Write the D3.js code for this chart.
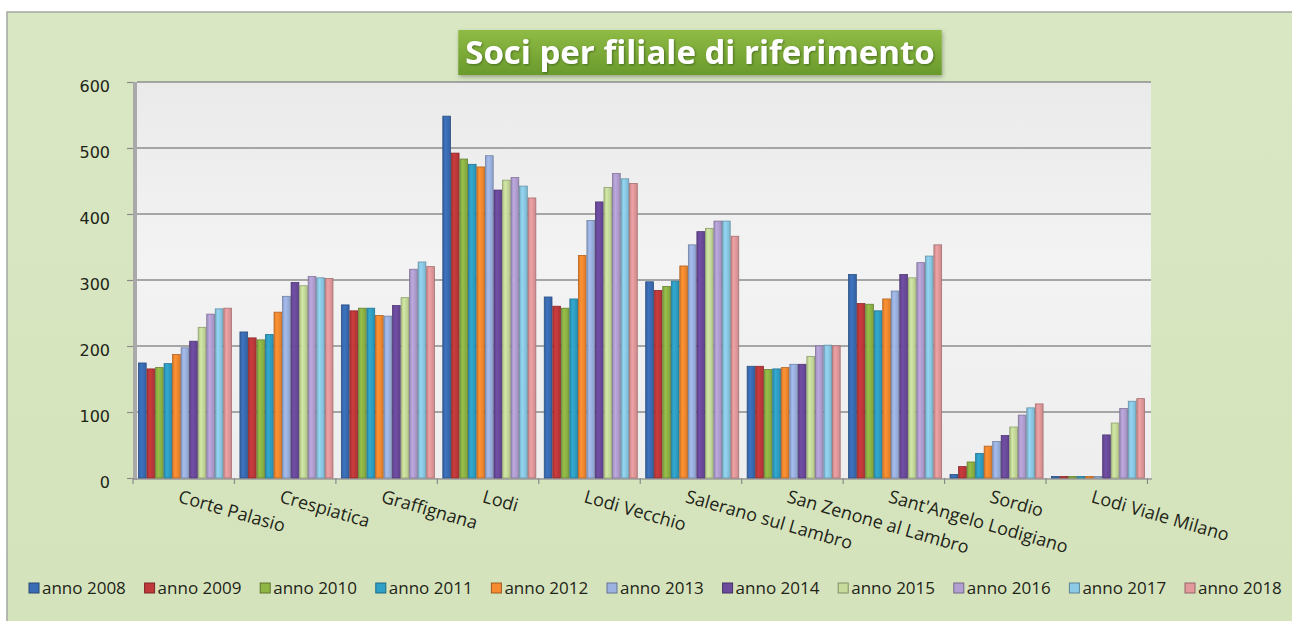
<!DOCTYPE html>
<html>
<head>
<meta charset="utf-8">
<script src="https://cdn.jsdelivr.net/npm/d3@7"></script>
<style>
  html, body { margin: 0; padding: 0; background: #ffffff; }
  svg { display: block; }
</style>
</head>
<body>
<svg id="chart" width="1292" height="621"></svg>
<script>
// Branches (filiali)
const categories = [
  "Corte Palasio", "Crespiatica", "Graffignana", "Lodi", "Lodi Vecchio",
  "Salerano sul Lambro", "San Zenone al Lambro", "Sant'Angelo Lodigiano",
  "Sordio", "Lodi Viale Milano"
];

// Years shown in the legend
const years = ["anno 2008", "anno 2009", "anno 2010", "anno 2011", "anno 2012",
  "anno 2013", "anno 2014", "anno 2015", "anno 2016", "anno 2017", "anno 2018"];

// Members per branch, one array per year (same order as categories)
const anno2008 = [172, 219, 260, 546, 272, 295, 167, 306, 3, 0];
const anno2009 = [163, 210, 251, 490, 258, 282, 167, 262, 15, 0];
const anno2010 = [165, 207, 255, 481, 255, 288, 162, 261, 22, 0];
const anno2011 = [171, 215, 255, 473, 269, 296, 163, 251, 35, 0];
const anno2012 = [185, 249, 244, 469, 335, 319, 165, 269, 46, 0];
const anno2013 = [195, 273, 243, 486, 388, 351, 170, 281, 53, 0];
const anno2014 = [205, 294, 259, 434, 416, 371, 170, 306, 62, 63];
const anno2015 = [226, 289, 271, 449, 438, 376, 182, 301, 75, 81];
const anno2016 = [246, 303, 314, 453, 459, 387, 198, 324, 93, 103];
const anno2017 = [254, 301, 325, 440, 451, 387, 199, 334, 104, 114];
const anno2018 = [255, 300, 318, 422, 444, 364, 198, 351, 110, 118];

const yTicks = [0, 100, 200, 300, 400, 500, 600];

const seriesValues = [anno2008, anno2009, anno2010, anno2011, anno2012, anno2013,
  anno2014, anno2015, anno2016, anno2017, anno2018];

const colors = ["#3a6db5", "#c0393b", "#8fb545", "#2fa0c6", "#f58a30",
  "#9cb3e2", "#6c4b9d", "#c7dc9c", "#b3a0d3", "#8ccbe6", "#e39a9c"];

const titleText = "Soci per filiale di riferimento";

const svg = d3.select("#chart");
const W = 1292, H = 621;

const defs = svg.append("defs");

// Chart area background (soft green)
const bg = defs.append("linearGradient").attr("id", "bgGrad")
  .attr("x1", 0).attr("y1", 0).attr("x2", 0).attr("y2", 1);
bg.append("stop").attr("offset", "0%").attr("stop-color", "#d9e7c3");
bg.append("stop").attr("offset", "100%").attr("stop-color", "#d5e3bc");

// Plot back wall
const wall = defs.append("linearGradient").attr("id", "wallGrad")
  .attr("x1", 0).attr("y1", 0).attr("x2", 0).attr("y2", 1);
wall.append("stop").attr("offset", "0%").attr("stop-color", "#eaeaea");
wall.append("stop").attr("offset", "45%").attr("stop-color", "#f3f3f3");
wall.append("stop").attr("offset", "100%").attr("stop-color", "#eeeeee");

// Title box
const tg = defs.append("linearGradient").attr("id", "titleGrad")
  .attr("x1", 0).attr("y1", 0).attr("x2", 0).attr("y2", 1);
tg.append("stop").attr("offset", "0%").attr("stop-color", "#8fbb45");
tg.append("stop").attr("offset", "100%").attr("stop-color", "#6a9a2c");

const shadow = defs.append("filter").attr("id", "shadow")
  .attr("x", "-10%").attr("y", "-30%").attr("width", "120%").attr("height", "170%");
shadow.append("feDropShadow").attr("dx", 1).attr("dy", 2).attr("stdDeviation", 2)
  .attr("flood-color", "#000").attr("flood-opacity", 0.3);

const txtShadow = defs.append("filter").attr("id", "txtShadow")
  .attr("x", "-5%").attr("y", "-20%").attr("width", "110%").attr("height", "150%");
txtShadow.append("feDropShadow").attr("dx", 1).attr("dy", 1).attr("stdDeviation", 0.8)
  .attr("flood-color", "#2a4a10").attr("flood-opacity", 0.6);

// Per-series bar shading (rounded bevel look)
colors.forEach((c, i) => {
  const g = defs.append("linearGradient").attr("id", "bar" + i)
    .attr("x1", 0).attr("y1", 0).attr("x2", 1).attr("y2", 0);
  g.append("stop").attr("offset", "0%").attr("stop-color", d3.color(c).darker(0.35));
  g.append("stop").attr("offset", "35%").attr("stop-color", d3.color(c).brighter(0.15));
  g.append("stop").attr("offset", "100%").attr("stop-color", d3.color(c).darker(0.3));
});

// Outer frame
svg.append("rect").attr("x", 7).attr("y", 12).attr("width", W).attr("height", H)
  .attr("fill", "url(#bgGrad)").attr("stroke", "#a3a8a0").attr("stroke-width", 1.5);

// Scales
const plotLeft = 133, plotRight = 1150, plotTop = 82, plotBottom = 478;
const y = d3.scaleLinear().domain([0, 600]).range([plotBottom, plotTop]);
const x0 = d3.scaleBand().domain(categories).range([plotLeft, plotRight])
  .paddingInner(0.075).paddingOuter(0.05);
const x1 = d3.scaleBand().domain(d3.range(years.length)).range([0, x0.bandwidth()]);

// Back wall
svg.append("rect").attr("x", plotLeft + 4).attr("y", plotTop)
  .attr("width", plotRight - plotLeft - 3).attr("height", plotBottom - plotTop)
  .attr("fill", "url(#wallGrad)");
// Left side wall strip
svg.append("rect").attr("x", plotLeft).attr("y", plotTop)
  .attr("width", 4).attr("height", plotBottom - plotTop + 2)
  .attr("fill", "#a9a9a9");

// Gridlines
svg.append("g").selectAll("line").data(yTicks.filter(d => d > 0)).join("line")
  .attr("x1", plotLeft + 4).attr("x2", plotRight + 1)
  .attr("y1", d => y(d)).attr("y2", d => y(d))
  .attr("stroke", "#8d8d8d").attr("stroke-width", 1.6);

// Y axis ticks and labels
const yAxis = d3.axisLeft(y).tickValues(yTicks).tickSize(6).tickPadding(17);
const yg = svg.append("g").attr("transform", `translate(${plotLeft},0)`).call(yAxis);
yg.select(".domain").remove();
yg.selectAll(".tick line").attr("stroke", "#8a8a8a").attr("stroke-width", 1.2);
yg.selectAll(".tick text")
  .attr("font-family", "DejaVu Sans, sans-serif").attr("font-size", 16)
  .attr("fill", "#1e2418").attr("dy", "0.65em")
  .attr("transform", "translate(0,-1)");

// Floor line and category ticks
svg.append("line").attr("x1", plotLeft).attr("x2", plotRight + 2)
  .attr("y1", plotBottom + 1).attr("y2", plotBottom + 1)
  .attr("stroke", "#9a9a9a").attr("stroke-width", 1.5);
const step = x0.step();
svg.append("g").selectAll("line").data(d3.range(categories.length + 1)).join("line")
  .attr("x1", i => plotLeft + i * step).attr("x2", i => plotLeft + i * step)
  .attr("y1", plotBottom).attr("y2", plotBottom + 6)
  .attr("stroke", "#8a8a8a").attr("stroke-width", 1.2);

// Bars
const groups = svg.append("g").selectAll("g").data(categories).join("g")
  .attr("transform", c => `translate(${x0(c)},0)`);
groups.selectAll("rect")
  .data((c, ci) => seriesValues.map((s, si) => ({ si, v: s[ci] })))
  .join("rect")
  .attr("x", d => x1(d.si) + 0.4)
  .attr("width", x1.bandwidth() - 0.8)
  .attr("y", d => y(d.v) - 1.5)
  .attr("height", d => plotBottom - y(d.v) + 1.5)
  .attr("fill", d => `url(#bar${d.si})`)
  .attr("stroke", d => d3.color(colors[d.si]).darker(0.9))
  .attr("stroke-width", 0.8);

// Category labels (slanted)
svg.append("g").selectAll("text").data(categories).join("text")
  .attr("transform", c => `translate(${x0(c) + x0.bandwidth() / 2 - 4},${plotBottom + 11}) rotate(16)`)
  .attr("dy", "0.75em")
  .attr("font-family", "Open Sans, sans-serif").attr("font-size", 18)
  .attr("fill", "#1e2418")
  .text(c => c);

// Title
const tt = svg.append("text").attr("x", 700).attr("y", 64)
  .attr("text-anchor", "middle")
  .attr("font-family", "Open Sans, sans-serif").attr("font-weight", "bold")
  .attr("font-size", 33).attr("fill", "#ffffff")
  .attr("filter", "url(#txtShadow)")
  .text(titleText);
const tb = tt.node().getBBox();
svg.insert("rect", () => tt.node())
  .attr("x", tb.x - 7).attr("y", 30).attr("width", tb.width + 14).attr("height", 45)
  .attr("fill", "url(#titleGrad)").attr("filter", "url(#shadow)");

// Legend
const legend = svg.append("g").selectAll("g").data(years).join("g")
  .attr("transform", (d, i) => `translate(${29 + i * 115.6},583)`);
legend.append("rect").attr("width", 10).attr("height", 10)
  .attr("fill", (d, i) => colors[i])
  .attr("stroke", (d, i) => d3.color(colors[i]).darker(1.2)).attr("stroke-width", 1);
legend.append("text").attr("x", 13).attr("y", 5).attr("dy", "0.35em")
  .attr("font-family", "Open Sans, sans-serif").attr("font-size", 17)
  .attr("fill", "#1e2418")
  .text(d => d);
</script>
</body>
</html>
